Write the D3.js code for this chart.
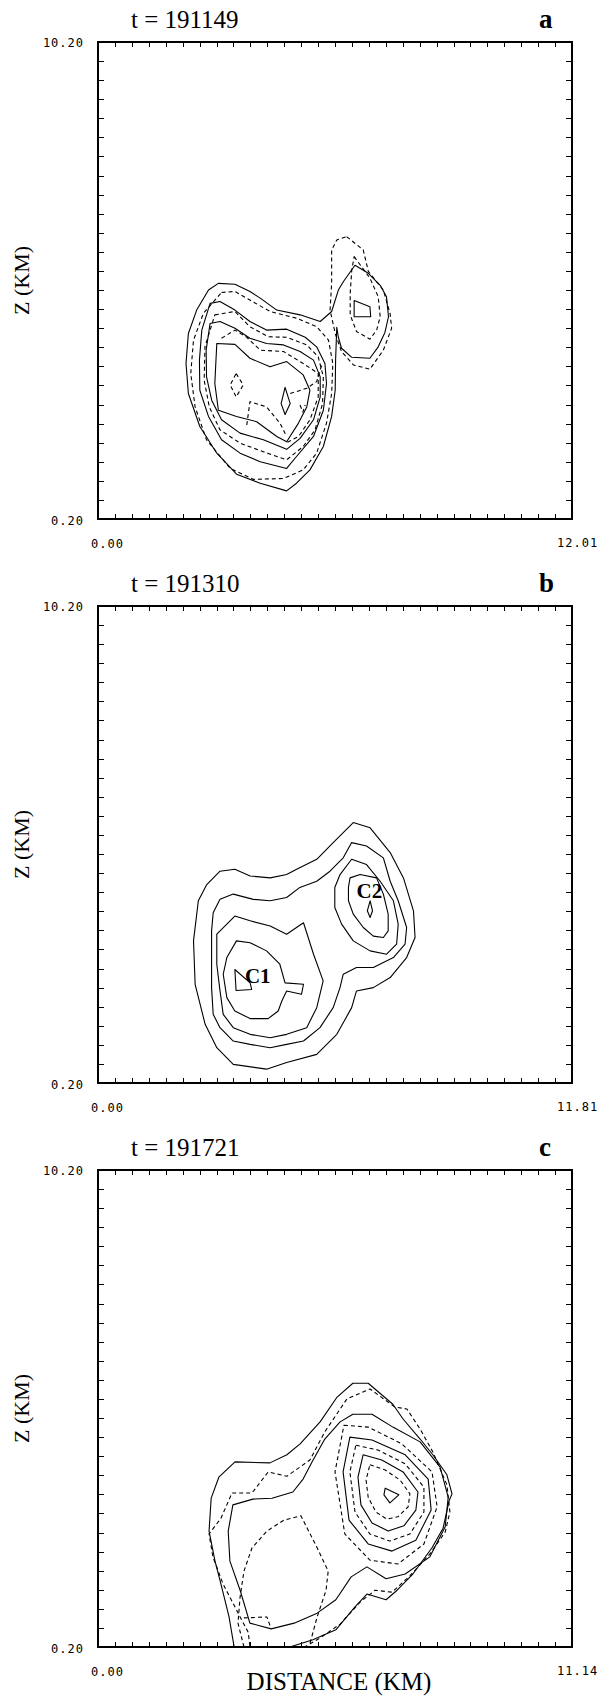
<!DOCTYPE html>
<html><head><meta charset="utf-8">
<script src="https://cdn.jsdelivr.net/npm/d3@7"></script>
<style>body{margin:0;background:#fff}</style>
</head><body>
<svg id="chart" width="599" height="1701"></svg>
<script>
// ---------------- DATA ----------------
const panelLetters = ["a", "b", "c"];
const panelTimes = ["t = 191149", "t = 191310", "t = 191721"];
const xMax = [12.01, 11.81, 11.14];
const xMaxLabels = ["12.01", "11.81", "11.14"];
const xMinLabel = "0.00";
const zRange = [0.20, 10.20];
const zLabels = ["10.20", "0.20"];
const xTickIntervals = 28;
const zTickStep = 0.4;

// Panel a contours [distance km, height km]
const aS1 = [[3.05,5.14],[3.47,5.12],[3.85,4.97],[4.11,4.83],[4.53,4.58],[5.12,4.48],[5.63,4.34],[5.92,4.55],[6.09,5.00],[6.22,5.18],[6.51,5.52],[6.85,5.35],[7.15,5.10],[7.31,4.86],[7.36,4.44],[7.27,4.11],[7.10,3.81],[6.89,3.57],[6.43,3.59],[6.17,3.78],[6.09,4.01],[6.05,4.22],[6.02,3.53],[6.01,2.90],[5.92,2.35],[5.71,1.72],[5.37,1.23],[5.03,0.95],[4.78,0.79],[4.11,0.95],[3.51,1.14],[3.01,1.58],[2.58,2.14],[2.29,2.83],[2.23,3.46],[2.29,4.09],[2.50,4.58],[2.80,5.00]];
const aS2 = [[2.84,4.72],[3.09,4.76],[3.47,4.58],[3.85,4.34],[4.27,4.16],[4.78,4.18],[5.25,4.01],[5.54,3.81],[5.75,3.46],[5.79,3.04],[5.71,2.48],[5.46,1.93],[5.03,1.51],[4.78,1.26],[4.11,1.40],[3.60,1.58],[3.13,1.86],[2.80,2.35],[2.58,2.90],[2.57,3.53],[2.63,4.16]];
const aS3 = [[2.84,4.30],[3.09,4.34],[3.47,4.20],[3.85,3.99],[4.27,3.88],[4.70,3.85],[5.12,3.71],[5.46,3.53],[5.63,3.18],[5.63,2.76],[5.46,2.28],[5.12,1.89],[4.78,1.66],[4.19,1.86],[3.60,2.00],[3.13,2.28],[2.88,2.69],[2.75,3.18],[2.74,3.74]];
const aS4 = [[3.01,3.88],[3.47,3.86],[3.85,3.57],[4.36,3.39],[4.78,3.50],[5.20,3.22],[5.37,2.90],[5.29,2.55],[5.08,2.21],[4.78,1.82],[4.53,1.93],[4.02,2.24],[3.51,2.35],[3.05,2.48],[2.96,3.04]];
const aS5 = [[4.74,2.96],[4.87,2.62],[4.74,2.39],[4.64,2.62]];
const aS6 = [[6.49,4.78],[6.89,4.65],[6.91,4.44],[6.49,4.44]];
const aD1 = [[3.13,4.95],[3.47,4.97],[3.85,4.79],[4.36,4.55],[5.03,4.41],[5.54,4.23],[5.84,3.95],[5.95,3.46],[5.92,2.83],[5.79,2.21],[5.54,1.58],[5.20,1.23],[4.70,1.05],[3.94,1.03],[3.35,1.26],[2.75,1.86],[2.46,2.55],[2.35,3.25],[2.42,3.95],[2.67,4.51]];
const aD2 = [[2.96,4.48],[3.47,4.55],[3.85,4.23],[4.32,4.02],[4.78,4.01],[5.29,3.85],[5.58,3.60],[5.71,3.18],[5.69,2.62],[5.50,2.07],[5.20,1.72],[4.78,1.44],[4.19,1.61],[3.60,1.79],[3.09,2.07],[2.82,2.55],[2.69,3.11],[2.71,3.81]];
const aD3 = [[3.13,3.99],[3.47,4.16],[3.77,4.01],[4.11,3.74],[4.70,3.71],[5.20,3.46],[5.58,3.25],[5.58,2.76],[5.37,2.28],[5.08,1.93],[4.78,1.80]];
const aD4 = [[3.77,2.17],[3.85,2.66],[4.27,2.55],[4.61,2.21],[4.78,1.93]];
const aD5 = [[4.87,2.83],[5.29,2.94],[5.54,3.08],[5.67,3.43]];
const aD6 = [[3.50,3.25],[3.68,3.01],[3.50,2.76],[3.35,3.01]];
const aD7 = [[5.12,2.59],[5.19,2.44],[5.25,2.59]];
const aDr1 = [[6.30,6.12],[6.72,5.84],[6.85,5.39],[7.23,5.00],[7.40,4.51],[7.44,4.20],[7.23,3.74],[6.89,3.34],[6.47,3.43],[6.17,3.71],[6.01,4.09],[5.88,4.58],[5.92,5.14],[5.92,5.84],[6.05,6.05]];
const aDr2 = [[6.49,5.70],[6.89,5.25],[7.10,4.86],[7.15,4.44],[7.06,4.16],[6.89,3.97],[6.55,4.13],[6.39,4.48],[6.39,4.93],[6.43,5.42]];

// Panel b contours
const bS1 = [[3.04,4.64],[3.41,4.68],[3.79,4.54],[4.29,4.50],[4.70,4.57],[4.95,4.68],[5.45,4.89],[5.86,5.24],[6.36,5.66],[6.78,5.55],[7.28,5.03],[7.61,4.50],[7.86,3.81],[7.90,3.25],[7.69,2.83],[7.28,2.41],[6.86,2.20],[6.44,2.13],[6.32,1.78],[5.95,1.22],[5.45,0.80],[4.70,0.63],[4.20,0.49],[3.37,0.59],[2.96,0.94],[2.67,1.43],[2.42,2.27],[2.38,3.18],[2.50,4.02],[2.71,4.36]];
const bS2 = [[3.04,4.05],[3.37,4.16],[3.87,4.05],[4.29,4.02],[4.70,4.09],[5.03,4.30],[5.45,4.43],[5.78,4.64],[6.11,4.92],[6.32,5.24],[6.69,5.17],[7.11,4.92],[7.28,4.43],[7.48,4.02],[7.69,3.46],[7.65,3.11],[7.36,2.83],[6.86,2.62],[6.44,2.62],[6.11,2.48],[6.03,2.20],[5.86,1.78],[5.53,1.36],[5.12,1.08],[4.70,1.01],[4.29,0.94],[3.79,1.01],[3.37,1.08],[3.04,1.36],[2.87,1.64],[2.83,2.20],[2.83,2.90],[2.83,3.39],[2.87,3.77]];
const bS3 = [[2.96,3.32],[3.41,3.70],[3.79,3.60],[4.29,3.49],[4.70,3.32],[5.12,3.56],[5.37,2.90],[5.61,2.34],[5.45,1.78],[5.20,1.36],[4.70,1.22],[4.29,1.15],[3.79,1.22],[3.37,1.36],[3.12,1.64],[3.04,2.13],[2.96,2.69]];
const bS4 = [[5.90,4.30],[6.03,4.57],[6.32,4.89],[6.69,4.78],[7.03,4.43],[7.36,4.02],[7.48,3.53],[7.44,3.11],[7.19,2.90],[6.78,2.97],[6.36,3.18],[6.07,3.53],[5.90,3.88]];
const bS5 = [[3.21,2.83],[3.45,3.18],[3.79,3.14],[4.20,2.97],[4.53,2.69],[4.66,2.30],[5.12,2.27],[5.07,2.06],[4.70,2.13],[4.58,1.92],[4.49,1.71],[4.24,1.55],[3.79,1.55],[3.41,1.71],[3.21,1.99],[3.12,2.48]];
const bS6 = [[6.28,4.50],[6.53,4.57],[6.94,4.50],[7.11,4.16],[7.23,3.74],[7.23,3.39],[7.11,3.25],[6.86,3.28],[6.61,3.46],[6.36,3.74],[6.24,4.02],[6.24,4.30]];
const bS7 = [[3.41,2.58],[3.79,2.30],[3.83,2.16],[3.44,2.14]];
const bS8 = [[6.78,4.02],[6.84,3.81],[6.78,3.67],[6.71,3.81]];
const bCellNames = ["C1", "C2"];
const bCellPos = [[3.66, 2.29], [6.44, 4.08]];

// Panel c contours
const cR1 = [[6.75,3.53],[7.07,3.39],[6.86,3.22],[6.72,3.39]];
const cR2 = [[6.39,4.02],[6.75,3.91],[7.10,3.70],[7.33,3.41],[7.29,3.14],[7.05,2.93],[6.79,2.88],[6.53,3.03],[6.35,3.34],[6.30,3.70]];
const cR3 = [[6.23,4.23],[6.67,4.12],[7.17,3.87],[7.52,3.45],[7.47,3.07],[7.19,2.74],[6.82,2.63],[6.44,2.80],[6.18,3.18],[6.11,3.76]];
const cR4 = [[6.06,4.43],[6.58,4.33],[7.22,4.04],[7.66,3.55],[7.66,3.03],[7.33,2.57],[6.86,2.42],[6.39,2.57],[6.04,3.03],[5.92,3.87]];
const cR5 = [[5.92,4.60],[6.44,4.54],[7.22,4.23],[7.76,3.72],[7.83,3.07],[7.47,2.44],[6.91,2.21],[6.35,2.36],[5.90,2.86],[5.76,3.87]];
const cR6 = [[5.78,4.85],[6.35,4.81],[7.14,4.46],[7.85,3.87],[7.97,3.14],[7.66,2.36],[7.05,1.94],[6.39,2.02],[5.80,2.57],[5.57,3.87]];
const cS2 = [[3.17,3.18],[3.64,3.30],[4.09,3.32],[4.58,3.45],[4.82,3.72],[5.03,4.08],[5.33,4.56],[5.69,4.92],[5.99,5.08],[6.44,5.08],[6.93,4.81],[7.57,4.50],[8.04,3.97],[8.23,3.34],[8.16,2.72],[7.80,2.09],[7.22,1.73],[6.77,1.63],[6.32,1.88],[5.95,1.67],[5.59,1.19],[5.15,0.91],[4.61,0.70],[4.07,0.58],[3.57,0.70],[3.34,1.39],[3.10,2.00],[3.06,2.63]];
const cS1 = [[3.20,0.20],[3.08,0.83],[2.89,1.52],[2.75,2.00],[2.61,2.63],[2.66,3.32],[2.84,3.76],[3.22,4.08],[4.04,4.06],[4.44,4.23],[4.75,4.46],[5.22,4.92],[5.62,5.44],[5.99,5.73],[6.35,5.73],[6.93,5.29],[7.17,4.98],[7.57,4.56],[7.87,4.23],[8.20,3.81],[8.32,3.41],[8.25,3.26],[8.11,2.69],[7.85,2.28],[7.40,1.73],[7.03,1.39],[6.77,1.19],[6.32,1.31],[6.04,1.04],[5.59,0.56],[5.05,0.35],[4.51,0.20]];
const cD1 = [[3.57,0.22],[3.53,0.51],[3.34,0.83],[2.94,1.52],[2.70,2.09],[2.61,2.57],[2.89,2.90],[3.15,3.43],[3.62,3.43],[4.00,3.87],[4.44,3.78],[4.98,4.12],[5.33,4.71],[5.85,5.40],[6.39,5.61],[6.98,5.23],[7.26,5.19],[7.57,4.77],[7.87,4.29],[8.20,3.60],[8.27,3.03],[8.16,2.61],[7.80,2.15],[7.33,1.69],[6.91,1.35],[6.51,1.39],[6.16,1.14],[5.69,0.68],[5.22,0.39],[4.86,0.20]];
const cD2 = [[3.43,0.20],[3.29,0.70],[3.34,1.25],[3.43,1.79],[3.62,2.28],[3.97,2.63],[4.37,2.86],[4.77,2.95],[5.15,2.28],[5.41,1.79],[5.36,1.39],[5.15,0.83],[4.96,0.20]];
const cD3 = [[3.43,0.81],[3.97,0.83],[4.07,0.58]];

// contour sets: [points, dashed, closed]
const contourSets = [
  [[aS1,0,1],[aS2,0,1],[aS3,0,1],[aS4,0,1],[aS5,0,1],[aS6,0,1],[aD1,1,1],[aD2,1,1],[aD3,1,0],[aD4,1,0],[aD5,1,0],[aD6,1,1],[aD7,1,0],[aDr1,1,1],[aDr2,1,1]],
  [[bS1,0,1],[bS2,0,1],[bS3,0,1],[bS4,0,1],[bS5,0,1],[bS6,0,1],[bS7,0,1],[bS8,0,1]],
  [[cR1,0,1],[cR2,1,1],[cR3,0,1],[cR4,1,1],[cR5,0,1],[cR6,1,1],[cS2,0,1],[cS1,0,0],[cD1,1,0],[cD2,1,0],[cD3,1,0]]
];

// ---------------- LAYOUT ----------------
const frameLeft = 98, frameRight = 572, frameH = 477;
const frameTops = [42, 606, 1170];
const svg = d3.select("#chart");
svg.append("rect").attr("width", 599).attr("height", 1701).attr("fill", "#fff");
const monoFont = "'DejaVu Sans Mono', monospace";
const serif = "'Liberation Serif', 'Times New Roman', serif";

panelLetters.forEach((letter, i) => {
  const top = frameTops[i], bottom = top + frameH;
  const x = d3.scaleLinear().domain([0, xMax[i]]).range([frameLeft, frameRight]);
  const y = d3.scaleLinear().domain(zRange).range([bottom, top]);
  const g = svg.append("g");

  const clipId = "clip" + i;
  g.append("clipPath").attr("id", clipId).append("rect")
    .attr("x", frameLeft).attr("y", top).attr("width", frameRight - frameLeft).attr("height", frameH);

  const line = d3.line().x(d => x(d[0])).y(d => y(d[1]));
  const lineClosed = d3.line().x(d => x(d[0])).y(d => y(d[1])).curve(d3.curveLinearClosed);
  const cg = g.append("g").attr("clip-path", `url(#${clipId})`);
  contourSets[i].forEach(([pts, dashed, closed]) => {
    cg.append("path")
      .attr("d", closed ? lineClosed(pts) : line(pts))
      .attr("fill", "none").attr("stroke", "#000")
      .attr("stroke-width", 1.1)
      .attr("stroke-linejoin", "round")
      .attr("stroke-dasharray", dashed ? "4,3" : null);
  });

  // axes with inward ticks
  const xt = d3.range(0, xTickIntervals + 1).map(k => k * xMax[i] / xTickIntervals);
  const zt = d3.range(0, Math.round((zRange[1] - zRange[0]) / zTickStep) + 1).map(k => zRange[0] + k * zTickStep);
  const styleAxis = sel => {
    sel.select(".domain").remove();
    sel.selectAll("text").remove();
    sel.selectAll("line").attr("stroke", "#000").attr("stroke-width", 1).attr("shape-rendering", "crispEdges");
  };
  g.append("g").attr("transform", `translate(0,${bottom})`)
    .call(d3.axisBottom(x).tickValues(xt).tickSizeInner(-5).tickSizeOuter(0)).call(styleAxis);
  g.append("g").attr("transform", `translate(0,${top})`)
    .call(d3.axisTop(x).tickValues(xt).tickSizeInner(-5).tickSizeOuter(0)).call(styleAxis);
  g.append("g").attr("transform", `translate(${frameLeft},0)`)
    .call(d3.axisLeft(y).tickValues(zt).tickSizeInner(-6).tickSizeOuter(0)).call(styleAxis);
  g.append("g").attr("transform", `translate(${frameRight},0)`)
    .call(d3.axisRight(y).tickValues(zt).tickSizeInner(-6).tickSizeOuter(0)).call(styleAxis);

  g.append("rect").attr("x", frameLeft).attr("y", top)
    .attr("width", frameRight - frameLeft).attr("height", frameH)
    .attr("fill", "none").attr("stroke", "#000").attr("stroke-width", 1.2)
    .attr("shape-rendering", "crispEdges");

  // tick labels
  const lab = (t, xx, yy, anchor) => g.append("text").text(t)
    .attr("x", xx).attr("y", yy).attr("text-anchor", anchor)
    .attr("font-family", monoFont).attr("font-size", 12).attr("letter-spacing", 1.0)
    .attr("fill", "#000");
  lab(zLabels[0], frameLeft - 14, y(zRange[1]) + 5, "end");
  lab(zLabels[1], frameLeft - 14, y(zRange[0]) + 6, "end");
  lab(xMinLabel, x(0) - 7, bottom + 29, "start");
  lab(xMaxLabels[i], x(xMax[i]) - 15, bottom + 28, "start");

  // title & panel letter
  g.append("text").text(panelTimes[i]).attr("x", 131).attr("y", top - 14)
    .attr("font-family", serif).attr("font-size", 25).attr("fill", "#000");
  g.append("text").text(letter).attr("x", 539).attr("y", top - 14)
    .attr("font-family", serif).attr("font-weight", "bold").attr("font-size", 27).attr("fill", "#000");

  // y axis title
  g.append("text").text("Z (KM)")
    .attr("transform", `translate(29,${(top + bottom) / 2}) rotate(-90)`)
    .attr("text-anchor", "middle")
    .attr("font-family", serif).attr("font-size", 22).attr("fill", "#000");

  if (i === 1) {
    bCellNames.forEach((nm, k) => {
      g.append("text").text(nm).attr("x", x(bCellPos[k][0])).attr("y", y(bCellPos[k][1]))
        .attr("font-family", serif).attr("font-weight", "bold").attr("font-size", 21).attr("fill", "#000");
    });
  }
  if (i === 2) {
    g.append("text").text("DISTANCE (KM)").attr("x", 339).attr("y", bottom + 43)
      .attr("text-anchor", "middle")
      .attr("font-family", serif).attr("font-size", 25).attr("fill", "#000");
  }
});
</script>
</body></html>
